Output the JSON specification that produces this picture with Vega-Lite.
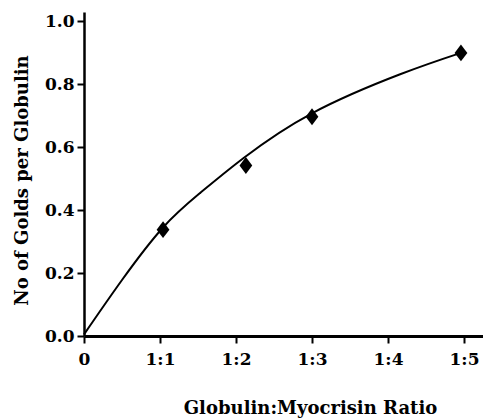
{
  "$schema": "https://vega.github.io/schema/vega-lite/v6.json",
  "width": 399,
  "height": 324,
  "autosize": "none",
  "padding": {"left": 84, "top": 12, "right": 0, "bottom": 82},
  "background": "white",
  "config": {"view": {"stroke": null}, "font": "DejaVu Serif"},
  "datasets": {
    "points": [
      {"ratio": 1.04, "golds": 0.338},
      {"ratio": 2.13, "golds": 0.542},
      {"ratio": 3.0, "golds": 0.697},
      {"ratio": 4.96, "golds": 0.9}
    ],
    "curve": [
      {"ratio": 0.0, "golds": 0.005},
      {"ratio": 0.5, "golds": 0.178},
      {"ratio": 1.04, "golds": 0.345},
      {"ratio": 1.53, "golds": 0.455},
      {"ratio": 2.1, "golds": 0.566},
      {"ratio": 3.0, "golds": 0.708},
      {"ratio": 4.16, "golds": 0.832},
      {"ratio": 4.96, "golds": 0.9}
    ]
  },
  "layer": [
    {
      "data": {"name": "curve"},
      "mark": {"type": "line", "interpolate": "natural", "color": "black", "strokeWidth": 2},
      "encoding": {
        "x": {
          "field": "ratio", "type": "quantitative",
          "scale": {"domain": [0, 5.25], "nice": false},
          "axis": {
            "values": [0, 0.5, 1, 1.5, 2, 2.5, 3, 3.5, 4, 4.5, 5],
            "labelExpr": "datum.value % 1 == 0 ? (datum.value == 0 ? '0' : '1:' + datum.value) : ''",
            "grid": false, "domainColor": "black", "domainWidth": 3, "tickColor": "black", "tickWidth": 2, "tickSize": 7,
            "labelFont": "DejaVu Serif", "labelFontWeight": "bold", "labelFontSize": 17, "labelColor": "black", "labelPadding": 8, "labelFlush": false,
            "title": "Globulin:Myocrisin Ratio", "titleFont": "DejaVu Serif", "titleFontWeight": "bold", "titleFontSize": 18, "titleColor": "black",
            "titleX": 226, "titleY": 72, "titleAlign": "center", "titleBaseline": "middle"
          }
        },
        "y": {
          "field": "golds", "type": "quantitative",
          "scale": {"domain": [0, 1.03], "nice": false},
          "axis": {
            "values": [0, 0.1, 0.2, 0.3, 0.4, 0.5, 0.6, 0.7, 0.8, 0.9, 1.0],
            "labelExpr": "round(datum.value * 10) % 2 == 0 ? format(datum.value, '.1f') : ''",
            "grid": false, "domainColor": "black", "domainWidth": 2.5, "tickColor": "black", "tickWidth": 2, "tickSize": 7,
            "labelFont": "DejaVu Serif", "labelFontWeight": "bold", "labelFontSize": 17, "labelColor": "black", "labelPadding": 3, "labelFlush": false,
            "title": "No of Golds per Globulin", "titleFont": "DejaVu Serif", "titleFontWeight": "bold", "titleFontSize": 18, "titleColor": "black",
            "titleX": -62, "titleY": 168, "titleAlign": "center", "titleBaseline": "middle", "titleAngle": -90
          }
        }
      }
    },
    {
      "data": {"name": "points"},
      "mark": {"type": "point", "shape": "M0,-1.05L0.8,0L0,1.05L-0.8,0Z", "filled": true, "color": "black", "opacity": 1, "size": 256},
      "encoding": {
        "x": {"field": "ratio", "type": "quantitative"},
        "y": {"field": "golds", "type": "quantitative"}
      }
    }
  ]
}
